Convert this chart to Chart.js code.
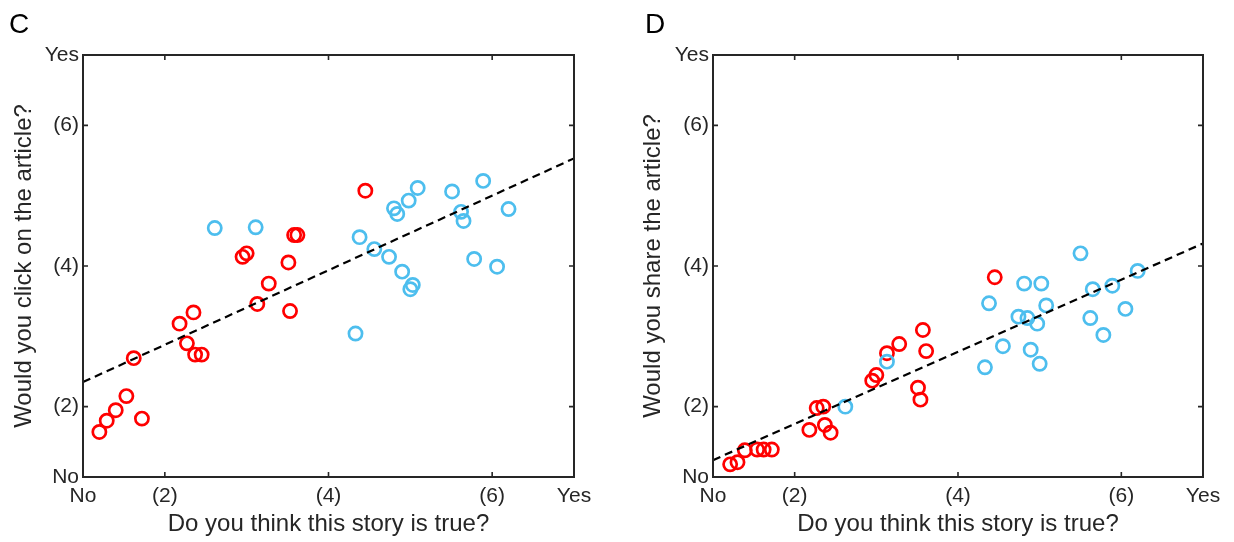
<!DOCTYPE html>
<html>
<head>
<meta charset="utf-8">
<script src="https://cdn.jsdelivr.net/npm/chart.js@4.4.1/dist/chart.umd.min.js"></script>
<style>
    body { margin: 0; background: #fff; }
    #wrap { position: relative; width: 1234px; height: 542px; }
    canvas { position: absolute; top: 0; }
</style>
</head>
<body>
<div id="wrap">
    <canvas id="panel-c" width="617" height="542" style="left:0"></canvas>
    <canvas id="panel-d" width="617" height="542" style="left:617px"></canvas>
</div>
<script>
// axis ticks (same scale 1..7 on both axes)
const tickValues = [1, 2, 4, 6, 7];
const tickLabels = ['No', '(2)', '(4)', '(6)', 'Yes'];

// panel C: click
const cRedX = [1.20, 1.29, 1.40, 1.53, 1.72, 1.62, 2.18, 2.35, 2.27, 2.37, 2.45, 2.95, 3.00, 3.51, 3.27, 3.13, 3.53, 3.58, 3.62, 4.45];
const cRedY = [1.64, 1.80, 1.95, 2.15, 1.83, 2.69, 3.18, 3.34, 2.90, 2.74, 2.74, 4.13, 4.18, 4.05, 3.75, 3.46, 3.36, 4.44, 4.44, 5.07];
const cBlueX = [2.61, 3.11, 4.38, 4.56, 4.74, 4.90, 5.03, 5.00, 4.33, 4.80, 4.84, 4.98, 5.09, 5.51, 5.89, 5.62, 5.65, 6.20, 5.78, 6.06];
const cBlueY = [4.54, 4.55, 4.41, 4.24, 4.13, 3.92, 3.73, 3.67, 3.04, 4.82, 4.74, 4.93, 5.11, 5.06, 5.21, 4.77, 4.64, 4.81, 4.10, 3.99];

// panel D: share
const dRedX = [1.21, 1.30, 1.39, 1.54, 1.62, 1.72, 2.18, 2.27, 2.35, 2.37, 2.44, 2.95, 3.00, 3.13, 3.28, 3.57, 3.61, 3.51, 3.54, 4.45];
const dRedY = [1.18, 1.21, 1.38, 1.39, 1.39, 1.39, 1.67, 1.98, 2.00, 1.74, 1.63, 2.37, 2.45, 2.76, 2.89, 3.09, 2.79, 2.27, 2.10, 3.84];
const dBlueX = [2.62, 3.13, 4.38, 4.33, 4.55, 4.74, 4.85, 4.97, 5.08, 4.81, 5.02, 4.89, 5.00, 5.50, 5.65, 5.89, 6.20, 5.62, 5.78, 6.05];
const dBlueY = [2.00, 2.64, 3.47, 2.56, 2.86, 3.28, 3.26, 3.18, 3.44, 3.75, 3.75, 2.81, 2.61, 4.18, 3.67, 3.72, 3.93, 3.26, 3.02, 3.39];

// regression lines (ends at x = 1 and x = 7)
const fitX = [1, 7];
const fitCY = [2.35, 5.53];
const fitDY = [1.24, 4.32];

const axisColor = '#262626';
const fontFamily = '"Liberation Sans", Arial, Helvetica, sans-serif';

function toPoints(xs, ys) {
    return xs.map((x, i) => ({ x: x, y: ys[i] }));
}

function labelFor(value) {
    const i = tickValues.indexOf(value);
    return i >= 0 ? tickLabels[i] : '';
}

// box around the plot, inward ticks on all four sides, panel letter
const boxPlugin = {
    id: 'box',
    afterDraw(chart, args, opts) {
        const ctx = chart.ctx;
        const a = chart.chartArea;
        const xs = chart.scales.x, ys = chart.scales.y;
        ctx.save();
        ctx.strokeStyle = axisColor;
        ctx.lineWidth = 1.6;
        [2, 4, 6].forEach(v => {
            const px = xs.getPixelForValue(v);
            const py = ys.getPixelForValue(v);
            ctx.beginPath();
            ctx.moveTo(px, a.bottom); ctx.lineTo(px, a.bottom - 5);
            ctx.moveTo(px, a.top); ctx.lineTo(px, a.top + 5);
            ctx.moveTo(a.left, py); ctx.lineTo(a.left + 5, py);
            ctx.moveTo(a.right, py); ctx.lineTo(a.right - 5, py);
            ctx.stroke();
        });
        ctx.lineWidth = 2;
        ctx.strokeRect(a.left, a.top, a.right - a.left, a.bottom - a.top);
        ctx.fillStyle = '#000';
        ctx.font = '28px ' + fontFamily;
        ctx.textBaseline = 'alphabetic';
        ctx.fillText(opts.letter, opts.letterX, 33);
        ctx.restore();
    }
};

function makePanel(id, letter, letterX, yTitle, red, blue, fitY, layout) {
    const ctx = document.getElementById(id).getContext('2d');
    return new Chart(ctx, {
        type: 'scatter',
        data: {
            datasets: [
                {
                    type: 'line',
                    data: toPoints(fitX, fitY),
                    borderColor: '#000',
                    borderWidth: 2.2,
                    borderDash: [8, 5],
                    pointRadius: 0,
                    fill: false
                },
                {
                    data: blue,
                    borderColor: '#4DBEEE',
                    backgroundColor: 'rgba(0,0,0,0)',
                    borderWidth: 2.7,
                    pointRadius: 6.6
                },
                {
                    data: red,
                    borderColor: '#FF0000',
                    backgroundColor: 'rgba(0,0,0,0)',
                    borderWidth: 2.7,
                    pointRadius: 6.6
                }
            ]
        },
        options: {
            responsive: false,
            animation: false,
            layout: {
                padding: { top: 55, right: layout.right, left: 0, bottom: 0 }
            },
            plugins: {
                legend: { display: false },
                tooltip: { enabled: false },
                box: { letter: letter, letterX: letterX }
            },
            scales: {
                x: {
                    type: 'linear',
                    min: 1,
                    max: 7,
                    grid: { display: false, drawTicks: false },
                    border: { display: false },
                    afterBuildTicks: scale => { scale.ticks = tickValues.map(v => ({ value: v })); },
                    afterFit: scale => { scale.height = 65; },
                    ticks: {
                        autoSkip: false,
                        maxRotation: 0,
                        padding: 7,
                        color: axisColor,
                        font: { size: 21, family: fontFamily },
                        callback: v => labelFor(v)
                    },
                    title: {
                        display: true,
                        text: 'Do you think this story is true?',
                        color: axisColor,
                        font: { size: 24, family: fontFamily },
                        padding: { top: 0, bottom: 3 }
                    }
                },
                y: {
                    type: 'linear',
                    min: 1,
                    max: 7,
                    grid: { display: false, drawTicks: false },
                    border: { display: false },
                    afterBuildTicks: scale => { scale.ticks = tickValues.map(v => ({ value: v })); },
                    afterFit: scale => { scale.width = layout.left; },
                    ticks: {
                        autoSkip: false,
                        padding: 4,
                        color: axisColor,
                        font: { size: 21, family: fontFamily },
                        callback: v => labelFor(v)
                    },
                    title: {
                        display: true,
                        text: yTitle,
                        color: axisColor,
                        font: { size: 24, family: fontFamily },
                        padding: { top: layout.titleLeft, bottom: 0 }
                    }
                }
            }
        },
        plugins: [boxPlugin]
    });
}

makePanel('panel-c', 'C', 9, 'Would you click on the article?',
    toPoints(cRedX, cRedY), toPoints(cBlueX, cBlueY), fitCY,
    { left: 83, right: 43, titleLeft: 10 });

makePanel('panel-d', 'D', 28, 'Would you share the article?',
    toPoints(dRedX, dRedY), toPoints(dBlueX, dBlueY), fitDY,
    { left: 96, right: 31, titleLeft: 22 });
</script>
</body>
</html>
